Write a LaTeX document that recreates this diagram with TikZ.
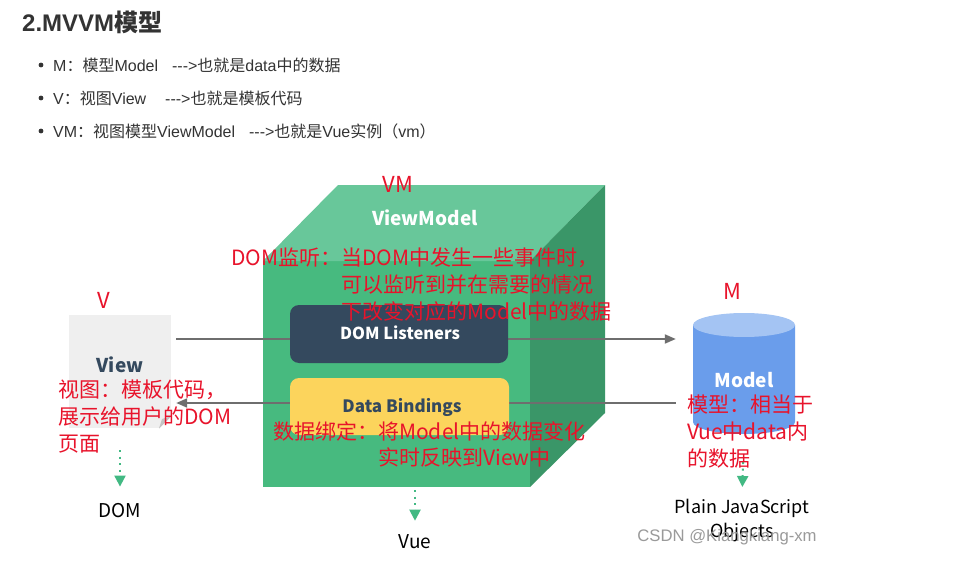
\documentclass[tikz,border=0pt]{standalone}
\usepackage{fontspec}
\setmainfont{Noto Sans CJK SC}
\newfontfamily\lat{Liberation Sans}
\usetikzlibrary{arrows.meta,calc}
\definecolor{txt}{HTML}{333333}
\definecolor{annred}{HTML}{E8132B}
\definecolor{cfront}{HTML}{47BA7F}
\definecolor{ctop}{HTML}{68C79A}
\definecolor{cright}{HTML}{3A9668}
\definecolor{dlbox}{HTML}{34495E}
\definecolor{dbbox}{HTML}{FCD45C}
\definecolor{viewbg}{HTML}{EFEFEF}
\definecolor{foldgray}{HTML}{C4C4C4}
\definecolor{cylbody}{HTML}{6A9DEB}
\definecolor{cyltop}{HTML}{A4C4F3}
\definecolor{vgreen}{HTML}{42B983}
\definecolor{linegray}{HTML}{6E6E6E}
\definecolor{wmgray}{HTML}{9A9A9A}
\tikzset{
  ann/.style={text=annred, font=\fontsize{21}{26.7}\selectfont, inner sep=0, align=left, anchor=north west},
  annc/.style={text=annred, font=\fontsize{22}{22}\selectfont, inner sep=0},
  bul/.style={text=txt, font=\fontsize{16}{16}\selectfont, inner sep=0, anchor=west},
  boxlbl/.style={inner sep=0, font=\bfseries\fontsize{16.5}{16.5}\selectfont},
  plain/.style={inner sep=0, text=black, font=\fontsize{19}{19}\selectfont},
  gline/.style={draw=linegray, line width=2pt},
  gtip/.style={-{Triangle[width=9pt,length=11pt]}},
  dotarr/.style={draw=vgreen, line width=2pt, dash pattern=on 2pt off 4.5pt, -{Triangle[width=11pt,length=11pt,fill=vgreen]}},
}
\begin{document}
\begin{tikzpicture}[x=1pt,y=-1pt]
\useasboundingbox[fill=white] (0,0) rectangle (964,575);

% heading and bullet list
\node[anchor=west, inner sep=0, text=txt, font=\bfseries\fontsize{24}{24}\selectfont] (title) at (22,22) {{\lat 2.MVVM}模型};
\fill[txt] (41,65) circle (2.4) (41,98) circle (2.4) (41,131) circle (2.4);
\node[bul] (b1) at (53,65) {{\lat M}：模型{\lat Model}\hspace{14pt}{\lat --->}也就是{\lat data}中的数据};
\node[bul] (b2) at (53,98) {{\lat V}：视图{\lat View}\hspace{19pt}{\lat --->}也就是模板代码};
\node[bul] (b3) at (53,131) {{\lat VM}：视图模型{\lat ViewModel}\hspace{14pt}{\lat --->}也就是{\lat Vue}实例（{\lat vm}）};

% cube (ViewModel)
\fill[cfront] (263,261) rectangle (530,487);
\fill[ctop] (263,261) -- (338,185) -- (605,185) -- (530,261) -- cycle;
\fill[cright] (530,261) -- (605,185) -- (605,413) -- (530,487) -- cycle;
\coordinate (cubebot) at (415,487);
\node[boxlbl, text=white, font=\bfseries\fontsize{19}{19}\selectfont] (vmlbl) at (425,218) {ViewModel};

% view page
\node[fill=viewbg, minimum width=102, minimum height=113, inner sep=0] (view) at (120,371.5) {};
\fill[white] (159,428.5) -- (171.5,428.5) -- (171.5,416) -- cycle;
\fill[foldgray] (159,428.5) -- (171.5,416) -- (162,419) -- cycle;
\node[boxlbl, text=dlbox, font=\bfseries\fontsize{19}{19}\selectfont] (viewlbl) at (120,365) {View};

% model cylinder
\fill[cylbody] (693,325) -- (693,422) arc[start angle=180, end angle=0, x radius=51, y radius=12] -- (795,325) -- cycle;
\fill[cyltop] (744,325) ellipse [x radius=51, y radius=12];
\node[boxlbl, text=white, font=\bfseries\fontsize{19}{19}\selectfont, minimum width=102, minimum height=100] (model) at (744,380) {Model};

% connectors between view and model
\draw[gline, gtip, shorten >=17] ($(view.east)+(5,-32.5)$) -- ($(model.west)+(0,-41)$);
\draw[gline, gtip, shorten <=17] ($(model.west)+(0,23)$) -- ($(view.east)+(5,31.5)$);

% inner boxes
\node[fill=dlbox, rounded corners=9, minimum width=218, minimum height=58, inner sep=0] (dl) at (399,334) {};
\node[boxlbl, text=white] (dltxt) at (400,333) {DOM Listeners};
\node[fill=dbbox, rounded corners=9, minimum width=219, minimum height=57, inner sep=0] (db) at (399.5,406.5) {};
\node[boxlbl, text=dlbox, font=\bfseries\fontsize{17}{17}\selectfont] (dbtxt) at (402,407) {Data Bindings};

% bottom labels and dotted arrows
\node[plain] (domlbl) at (120,511) {DOM};
\node[plain] (vuelbl) at (415,542) {Vue};
\node[inner sep=0, text=black, font=\fontsize{18}{23.5}\selectfont, align=center, anchor=north] (pjs) at (742,499) {Plain JavaScript\\Objects};
\draw[dotarr, shorten <=22, shorten >=17] (view.south) -- (domlbl.north);
\draw[dotarr, shorten <=3, shorten >=14] (cubebot) -- (vuelbl.north);
\draw[dotarr, shorten <=32, shorten >=12] (model.south) -- (pjs.north);

% red annotations
\node[annc] (vmred) at (398,184) {VM};
\node[annc] (vred) at (104,300) {V};
\node[annc] (mred) at (732,291) {M};
\node[ann] (ann1) at (231,248) {DOM监听：当DOM中发生一些事件时，\\\phantom{DOM监听：}可以监听到并在需要的情况\\\phantom{DOM监听：}下改变对应的Model中的数据};
\node[ann] (ann2) at (58,380) {视图：模板代码，\\展示给用户的DOM\\页面};
\node[ann] (ann3) at (273,421) {数据绑定：将Model中的数据变化\\\phantom{数据绑定：}实时反映到View中};
\node[ann] (ann4) at (687,395) {模型：相当于\\Vue中data内\\的数据};

% watermark
\node[inner sep=0, text=wmgray, font=\lat\fontsize{16.7}{16.7}\selectfont] (wm) at (727,537) {CSDN @Kiangkiang-xm};
\end{tikzpicture}
\end{document}
